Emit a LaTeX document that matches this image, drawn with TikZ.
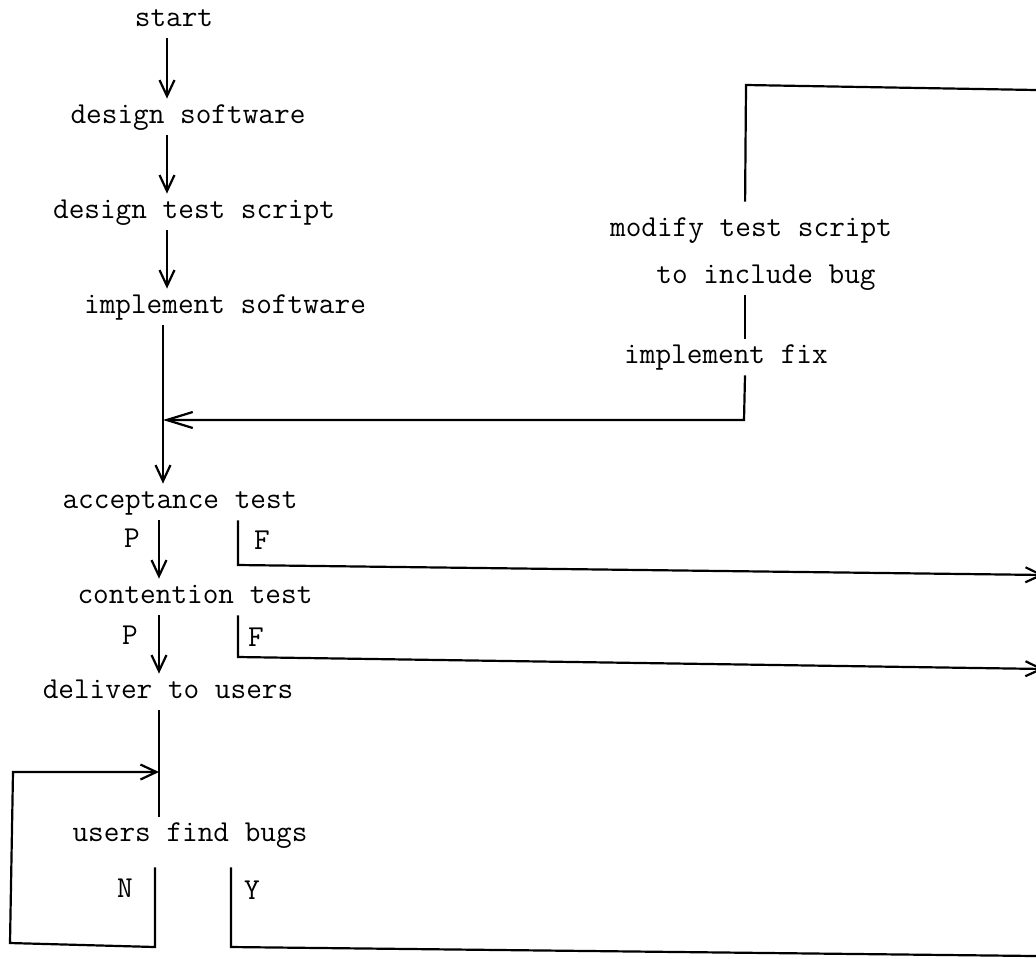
\documentclass[tikz,border=0pt]{standalone}
\usepackage{fontspec}
\usetikzlibrary{arrows.meta}

\tikzset{
  stage/.style={font=\ttfamily\fontsize{15.2}{17}\selectfont, inner xsep=0pt, inner ysep=3pt,
    text height=9pt, text depth=3pt},
  outcome/.style={font=\ttfamily\fontsize{15.2}{17}\selectfont, inner sep=0pt},
  flow/.style={line width=1.1pt, -{Straight Barb[length=8pt,width=7.5pt]}},
  link/.style={line width=1.1pt},
}

\begin{document}
\begin{tikzpicture}[x=0.5pt, y=-0.5pt]
  \useasboundingbox (0,0) rectangle (1036,958);
  % columns of the connectors
  \coordinate (colA) at (167,0);
  \coordinate (colB) at (163,0);
  \coordinate (colC) at (159,0);
  \coordinate (colF) at (238,0);
  \coordinate (colN) at (155,0);
  \coordinate (colY) at (231,0);
  \coordinate (colM) at (745,0);

  % main line
  \node[stage] (start) at (174,20) {start};
  \node[stage] (dsw) at (188,117) {design software};
  \node[stage] (dts) at (194,212) {design test script};
  \node[stage] (impl) at (225,307) {implement software};
  \node[stage] (acc) at (180,502) {acceptance test};
  \node[stage] (ct) at (195,597) {contention test};
  \node[stage] (dtu) at (168,692) {deliver to users};
  \node[stage] (ufb) at (190,835) {users find bugs};

  % fix loop
  \node[stage] (mts) at (751,230) {modify test script};
  \node[stage] (incl) at (766,277) {to include bug};
  \node[stage] (fix) at (726,357) {implement fix};

  % branch letters
  \node[outcome] (accP) at (132,538) {P};
  \node[outcome] (accFl) at (262,540) {F};
  \node[outcome] (ctP) at (130,635) {P};
  \node[outcome] (ctFl) at (256,637) {F};
  \node[outcome] (ufbN) at (125,888) {N};
  \node[outcome] (ufbY) at (252,890) {Y};

  \draw[flow] (start.south -| colA) -- (dsw.north -| colA);
  \draw[flow] (dsw.south -| colA) -- (dts.north -| colA);
  \draw[flow] (dts.south -| colA) -- (impl.north -| colA);
  \draw[flow] (impl.south -| colB) -- (acc.north -| colB);
  \draw[flow] (acc.south -| colC) -- (ct.north -| colC);
  \draw[flow] (ct.south -| colC) -- (dtu.north -| colC);
  \draw[link] (dtu.south -| colC) -- (ufb.north -| colC);

  % failed tests go off to the right
  \coordinate (accF) at (238,565);
  \coordinate (accOut) at (1044,575);
  \coordinate (ctF) at (238,657);
  \coordinate (ctOut) at (1044,669);
  \draw[flow] (acc.south -| colF) -- (accF) -- (accOut);
  \draw[flow] (ct.south -| colF) -- (ctF) -- (ctOut);

  % no bugs: back to the line
  \coordinate (noA) at (155,947);
  \coordinate (noB) at (10,943);
  \coordinate (noC) at (13,772);
  \draw[flow, shorten <=7pt] (ufb.south -| colN) -- (noA) -- (noB) -- (noC) -- (noC -| colC);

  % bugs found
  \coordinate (yesA) at (231,947);
  \coordinate (yesOut) at (1036,956);
  \draw[link, shorten <=7pt] (ufb.south -| colY) -- (yesA) -- (yesOut);

  \coordinate (topA) at (746,85);
  \coordinate (topOut) at (1036,90);
  \draw[link, shorten <=5pt] (mts.north -| colM) -- (topA) -- (topOut);
  \draw[link] (incl.south -| colM) -- (fix.north -| colM);
  \coordinate (fixA) at (744,420);
  \draw[link, -{Straight Barb[length=13pt,width=8pt]}] (fix.south -| colM) -- (fixA) -- (fixA -| colB);
\end{tikzpicture}
\end{document}
